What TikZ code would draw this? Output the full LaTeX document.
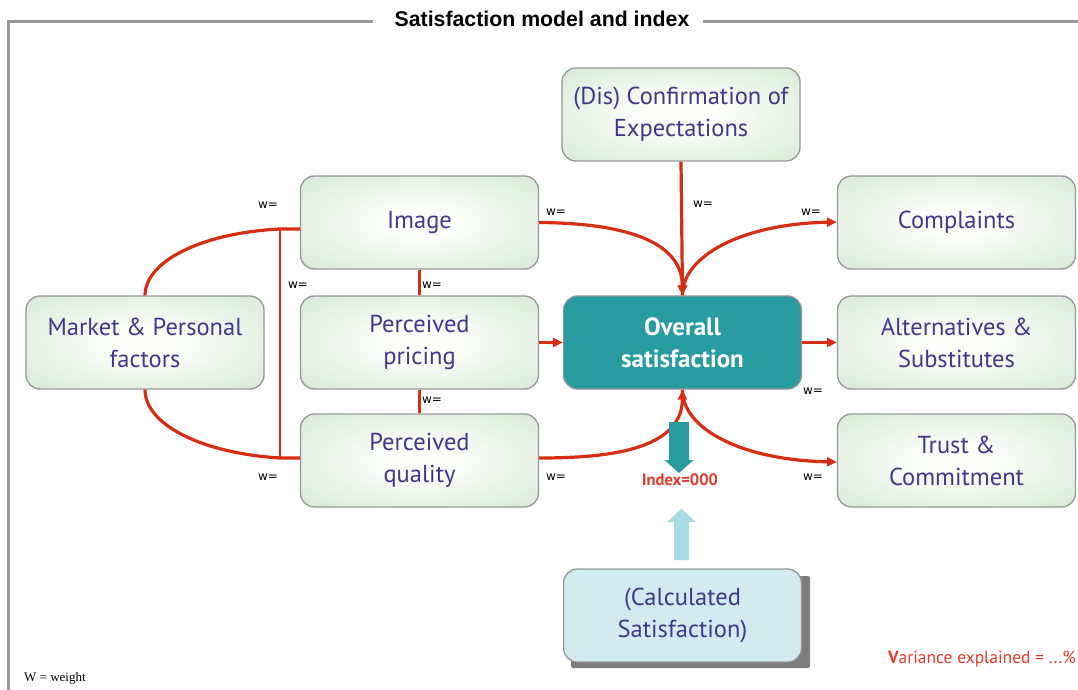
\documentclass[tikz,border=0pt]{standalone}
\usepackage{fontspec}
\setmainfont{PT Sans}
\newfontfamily\titlefont{Liberation Sans}
\newfontfamily\wfont{DejaVu Sans}
\newfontfamily\notefont{Liberation Serif}
\usetikzlibrary{arrows.meta}

\definecolor{boxtext}{RGB}{64,56,140}
\definecolor{linkred}{RGB}{214,45,20}
\definecolor{ovfill}{RGB}{39,155,160}
\definecolor{gedge}{RGB}{196,226,196}
\definecolor{gcenter}{RGB}{252,254,250}
\definecolor{calcfill}{RGB}{210,235,240}
\definecolor{upfill}{RGB}{168,219,226}
\definecolor{framegray}{RGB}{153,153,153}
\definecolor{boxborder}{RGB}{150,150,150}
\definecolor{notered}{RGB}{226,58,42}
\definecolor{shadowgray}{RGB}{125,125,128}

\pgfdeclareradialshading{boxglow}{\pgfpoint{0bp}{0bp}}{%
  color(0bp)=(gcenter); color(7bp)=(gcenter); color(50bp)=(gedge)}

\tikzset{
  x=1pt, y=1pt,
  basebox/.style={draw=boxborder, line width=1.3pt, rounded corners=14pt,
    minimum width=238pt, minimum height=93pt, inner sep=0pt, align=center,
    font=\fontsize{24.5}{32}\selectfont},
  gbox/.style={basebox, shade, shading=boxglow, text=boxtext},
  ovbox/.style={basebox, fill=ovfill, text=white,
    font=\fontsize{25}{31.5}\selectfont\bfseries},
  calcbox/.style={basebox, fill=calcfill, text=boxtext},
  link/.style={draw=linkred, line width=3.2pt},
  thinlink/.style={draw=linkred, line width=2.2pt},
  tolink/.style={link, -{Triangle[length=10pt,width=9pt]}},
  wlab/.style={font=\wfont\fontsize{12}{14}\selectfont, inner sep=0pt},
}

\begin{document}
\begin{tikzpicture}
\useasboundingbox (0,0) rectangle (1078,689);

% frame with its title
\draw[framegray, line width=3pt] (373,667) -- (8,667) -- (8,-2);
\draw[framegray, line width=3pt] (703,667) -- (1080,667);
\node[font=\titlefont\fontsize{21.3}{24}\selectfont\bfseries] (title) at (542,670) {Satisfaction model and index};

% boxes
\node[gbox] (conf)  at (681,574.5) {(Dis) Confirmation of\\Expectations};
\node[gbox] (img)   at (419.5,466.5) {Image};
\node[gbox] (mk)    at (145,346.5) {Market \& Personal\\factors};
\node[gbox] (price) at (419.5,346.5) {Perceived\\pricing};
\node[gbox] (qual)  at (419.5,228.5) {Perceived\\quality};
\node[ovbox] (over) at (682.5,346.5) {Overall\\satisfaction};
\node[gbox] (comp)  at (956.5,466.5) {Complaints};
\node[gbox] (alt)   at (956.5,346.5) {Alternatives \&\\Substitutes};
\node[gbox] (trust) at (956.5,228.5) {Trust \&\\Commitment};

% calculated satisfaction with its drop shadow
\fill[shadowgray, rounded corners=2pt] (571,21) rectangle (810,113);
\node[calcbox] (calc) at (682.5,73.5) {(Calculated\\Satisfaction)};

% junctions of the left bracket
\coordinate (jt) at (280,460);
\coordinate (jb) at (280,231);

% market factors into image and quality
\draw[link] (mk.north) .. controls (145,427) and (200,456) .. (jt) -- (img.west |- jt);
\draw[link] (mk.south) .. controls (145,265) and (200,236) .. (jb) -- (qual.west |- jb);
\draw[thinlink] (jt) -- (jb);
\draw[thinlink] (img.south) -- (price.north);
\draw[thinlink] (price.south) -- (qual.north);

% drivers into overall satisfaction
\draw[tolink] (img.east) .. controls (605,466) and (682,455) .. (over.north);
\draw[tolink] (qual.east |- jb) .. controls (605,231) and (682,238) .. (over.south);
\draw[tolink] (price.east) -- (over.west);
\draw[tolink] (conf.south) -- (over.north);

% consequences of overall satisfaction
\coordinate (compin) at (comp.west |- 0,467);
\coordinate (trustin) at (trust.west |- 0,227);
\draw[tolink] (over.north) .. controls (682,432) and (740,465) .. (compin);
\draw[tolink] (over.east) -- (alt.west);
\draw[tolink] (over.south) .. controls (682,261) and (740,229) .. (trustin);

% weight labels
\node[wlab] (w1)  at (268,484) {w=};
\node[wlab] (w2)  at (556,477) {w=};
\node[wlab] (w3)  at (703,485) {w=};
\node[wlab] (w4)  at (811,477) {w=};
\node[wlab] (w5)  at (298,404) {w=};
\node[wlab] (w6)  at (432,404) {w=};
\node[wlab] (w7)  at (432,289) {w=};
\node[wlab] (w8)  at (268,212) {w=};
\node[wlab] (w9)  at (556,212) {w=};
\node[wlab] (w10) at (813,298) {w=};
\node[wlab] (w11) at (813,212) {w=};

% index arrows
\fill[ovfill] (669,267) -- (689,267) -- (689,229) -- (693.5,229) -- (679,216) -- (664.5,229) -- (669,229) -- cycle;
\node[font=\fontsize{16.5}{18}\selectfont\bfseries, text=notered, inner sep=0pt] (idx) at (680,209) {Index=000};
\fill[upfill] (674,129) -- (689,129) -- (689,167) -- (696,167) -- (681.5,180) -- (667,167) -- (674,167) -- cycle;

% notes
\node[font=\fontsize{17.5}{19}\selectfont, text=notered, anchor=east, inner sep=0pt] (var) at (1076,30) {{\bfseries V}ariance explained = ...\%};
\node[font=\notefont\fontsize{13}{15}\selectfont, anchor=west, inner sep=0pt] (wnote) at (24,11) {W = weight};
\end{tikzpicture}
\end{document}
